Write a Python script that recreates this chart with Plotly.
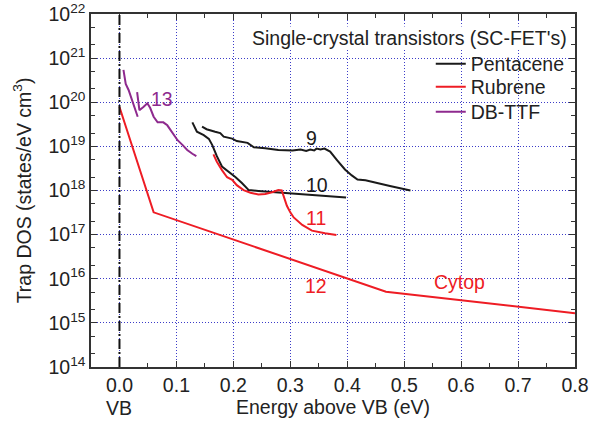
import plotly.graph_objects as go

# ---------------- data ----------------
# Pentacene, curve 9
pen9_x = [0.145, 0.153, 0.168, 0.177, 0.183, 0.198, 0.206, 0.218, 0.225, 0.236, 0.256, 0.279,
          0.304, 0.318, 0.328, 0.335, 0.342, 0.346, 0.353, 0.360, 0.370, 0.382, 0.396, 0.408,
          0.418, 0.432, 0.444, 0.458, 0.475, 0.493, 0.511]
pen9_y = [2.8e19, 2.45e19, 2.15e19, 2.0e19, 1.66e19, 1.5e19, 1.32e19, 1.26e19, 1.2e19, 9.5e18,
          9.1e18, 8.3e18, 8.1e18, 8.5e18, 7.9e18, 8.5e18, 8.1e18, 8.9e18, 8.5e18, 8.9e18,
          7.6e18, 4.9e18, 3.0e18, 2.2e18, 1.78e18, 1.7e18, 1.55e18, 1.38e18, 1.26e18,
          1.12e18, 1.0e18]
# Pentacene, curve 10
pen10_x = [0.128, 0.136, 0.148, 0.157, 0.163, 0.171, 0.180, 0.192, 0.204, 0.215, 0.227, 0.244,
           0.274, 0.300, 0.335, 0.358, 0.398]
pen10_y = [3.5e19, 2.15e19, 1.8e19, 1.48e19, 1.07e19, 6.0e18, 3.5e18, 2.7e18, 2.0e18, 1.48e18,
           1.02e18, 9.8e17, 9.1e17, 8.7e17, 7.8e17, 7.6e17, 6.9e17]
# Rubrene, curve 11
rub11_x = [0.165, 0.171, 0.180, 0.189, 0.198, 0.206, 0.218, 0.230, 0.244, 0.256, 0.268, 0.279,
           0.285, 0.289, 0.294, 0.300, 0.306, 0.321, 0.338, 0.361, 0.381]
rub11_y = [6.6e18, 4.5e18, 2.9e18, 2.0e18, 1.74e18, 1.32e18, 1.02e18, 8.9e17, 8.1e17, 8.3e17,
           9.1e17, 1.02e18, 1.0e18, 7.1e17, 4.5e17, 3.2e17, 2.45e17, 1.66e17, 1.23e17,
           1.07e17, 9.8e16]
# Rubrene on Cytop, curve 12
cytop_x = [0.0, 0.06, 0.468, 0.8]
cytop_y = [7.8e19, 3.2e17, 5.1e15, 1.66e15]
# DB-TTF, curve 13 (two sweeps)
dbttf_a_x = [0.007, 0.009, 0.011, 0.016, 0.021, 0.026, 0.032]
dbttf_a_y = [5.4e20, 3.5e20, 2.6e20, 1.9e20, 1.26e20, 8.3e19, 4.7e19]
dbttf_b_x = [0.031, 0.035, 0.042, 0.049, 0.054, 0.060, 0.067, 0.077, 0.084, 0.093, 0.102,
             0.111, 0.119, 0.128, 0.135]
dbttf_b_y = [1.7e20, 6.6e19, 7.8e19, 9.5e19, 7.4e19, 4.7e19, 3.5e19, 3.5e19, 3.0e19, 2.0e19,
             1.38e19, 1.07e19, 8.3e18, 6.8e18, 6.0e18]

series_names = ["Pentacene", "Rubrene", "DB-TTF"]
series_colors = ["#1a1a1a", "#ee1c24", "#8e2a8e"]
legend_ids = ["legend", "legend2", "legend3"]

# y tick values (decades) and their labels
y_ticks = [1e14, 1e15, 1e16, 1e17, 1e18, 1e19, 1e20, 1e21, 1e22]
y_ticktext = ["10<sup>14</sup>", "10<sup>15</sup>", "10<sup>16</sup>", "10<sup>17</sup>",
              "10<sup>18</sup>", "10<sup>19</sup>", "10<sup>20</sup>", "10<sup>21</sup>",
              "10<sup>22</sup>"]

# curve labels: (text, x, log10 y, colour index)
labels = [("9", 0.337, 19.19, 0), ("10", 0.347, 18.12, 0), ("11", 0.346, 17.38, 1),
          ("12", 0.346, 15.84, 1), ("Cytop", 0.598, 15.93, 1), ("13", 0.075, 20.07, 2)]

legend_title = "Single-crystal transistors (SC-FET's)"
x_title = "Energy above VB (eV)"
y_title = "Trap DOS (states/eV cm<sup>3</sup>)"

FONT = "Arial, Liberation Sans, sans-serif"
TXT = "#222222"
FS = 19.5

fig = go.Figure()

def add(xs, ys, idx, show):
    fig.add_trace(go.Scatter(x=xs, y=ys, mode="lines", name=series_names[idx],
                             legendgroup=series_names[idx], legend=legend_ids[idx],
                             showlegend=show, line=dict(color=series_colors[idx], width=2)))

add(pen9_x, pen9_y, 0, True)
add(pen10_x, pen10_y, 0, False)
add(rub11_x, rub11_y, 1, True)
add(cytop_x, cytop_y, 1, False)
add(dbttf_a_x, dbttf_a_y, 2, True)
add(dbttf_b_x, dbttf_b_y, 2, False)

for text, lx, ly, ci in labels:
    fig.add_annotation(x=lx, y=ly, xref="x", yref="y", text=text, showarrow=False,
                       font=dict(family=FONT, size=FS, color=series_colors[ci]))

# VB marker
fig.add_shape(type="line", x0=0, x1=0, xref="x", y0=0, y1=1, yref="paper",
              line=dict(color="#111111", width=2, dash="10px,3px,2px,3px"))
fig.add_annotation(x=0, xref="x", y=-0.116, yref="paper", text="VB", showarrow=False,
                   yanchor="middle", font=dict(family=FONT, size=FS, color=TXT))

# white panel behind the legend entries (hides grid, sits under the traces)
fig.add_shape(type="rect", xref="x", yref="y", x0=0.516, x1=0.782, y0=19.60, y1=21.25,
              fillcolor="white", line=dict(width=0), layer="between")

# legend title as text with its own white background
fig.add_annotation(x=0.985, xref="paper", y=0.932, yref="paper", text=legend_title,
                   showarrow=False, xanchor="right", yanchor="middle", bgcolor="white",
                   borderpad=0, font=dict(family=FONT, size=FS, color=TXT))

grid_col = "rgb(60,60,200)"
axis_common = dict(showline=True, linecolor="#333333", linewidth=1.5, mirror="allticks",
                   ticks="inside", tickcolor="#333333", tickwidth=1.2, ticklen=6,
                   showgrid=True, gridcolor=grid_col, griddash="1px,2px", gridwidth=1,
                   zeroline=False, automargin=False, ticklabeloverflow="allow",
                   tickfont=dict(family=FONT, size=FS, color=TXT))

fig.update_xaxes(range=[-0.05, 0.8], tick0=0, dtick=0.1, tickformat=".1f",
                 minor=dict(dtick=0.05, ticks="inside", ticklen=4, tickcolor="#333333",
                            showgrid=False),
                 title=dict(text=x_title, font=dict(family=FONT, size=FS, color=TXT), standoff=2),
                 **axis_common)
fig.update_yaxes(type="log", range=[14, 22], tickvals=y_ticks, ticktext=y_ticktext,
                 minor=dict(ticks="inside", ticklen=4, tickcolor="#333333", showgrid=False),
                 title=dict(text=y_title, font=dict(family=FONT, size=FS, color=TXT), standoff=12),
                 **axis_common)

legend_style = dict(x=0.702, xanchor="left", yanchor="middle", bgcolor="rgba(0,0,0,0)",
                    borderwidth=0, font=dict(family=FONT, size=FS, color=TXT), itemwidth=30)
fig.update_layout(
    width=592, height=423,
    margin=dict(l=91, r=17, t=14, b=56),
    paper_bgcolor="white", plot_bgcolor="white",
    font=dict(family=FONT, size=FS, color=TXT),
    showlegend=True,
    legend=dict(y=0.858, **legend_style),
    legend2=dict(y=0.793, **legend_style),
    legend3=dict(y=0.722, **legend_style),
)

# remove the default page margin so the figure sits at the window's top-left corner
fig.write_html("out.html", config={"displayModeBar": False},
               post_script="document.body.style.margin='0';")
